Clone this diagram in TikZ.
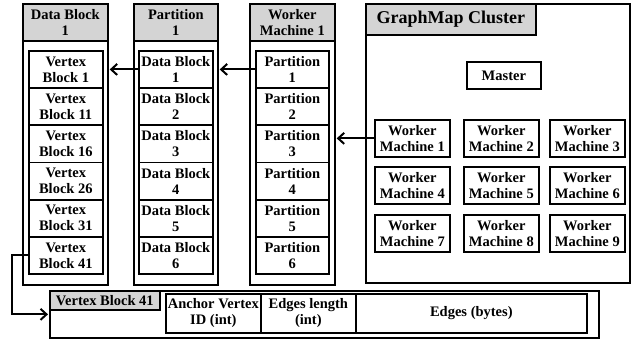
\documentclass[tikz,border=0pt]{standalone}
\usepackage{fontspec}
\setmainfont{Liberation Serif}
\usetikzlibrary{arrows.meta}
\begin{document}
\begin{tikzpicture}[x=1pt,y=-1pt,
 box/.style={draw, line width=1.7pt, inner sep=0pt, align=center, anchor=north west, font=\bfseries\fontsize{14.5}{16}\selectfont},
 hdr/.style={box, fill=black!17},
 arr/.style={line width=2pt, -{Straight Barb[length=6pt,width=11pt,line width=2pt]}, shorten >=1pt}]
\useasboundingbox (0,0) rectangle (636,341);
% Data block column
\node[box, minimum width=85, minimum height=281] (dcol) at (22,3) {};
\node[hdr, minimum width=85, minimum height=37] (dhdr) at (22,3) {Data Block\\1};
\foreach \t [count=\i] in {1,11,16,26,31,41}
  \node[box, minimum width=74, minimum height=37.2] (v\i) at (28,{50+37.2*(\i-1)}) {Vertex\\Block \t};
% Partition column
\node[box, minimum width=84, minimum height=281] (pcol) at (133,3) {};
\node[hdr, minimum width=84, minimum height=37] (phdr) at (133,3) {Partition\\1};
\foreach \i in {1,...,6}
  \node[box, minimum width=74, minimum height=37.2] (d\i) at (138,{50+37.2*(\i-1)}) {Data Block\\\i};
% Worker machine column
\node[box, minimum width=85, minimum height=281] (wcol) at (249,3) {};
\node[hdr, minimum width=85, minimum height=37] (whdr) at (249,3) {Worker\\Machine 1};
\foreach \i in {1,...,6}
  \node[box, minimum width=73, minimum height=37.2] (p\i) at (255,{50+37.2*(\i-1)}) {Partition\\\i};
% Cluster
\node[box, minimum width=264, minimum height=279] (cl) at (365,3) {};
\node[hdr, minimum width=170, minimum height=31, font=\bfseries\fontsize{18}{20}\selectfont] (clh) at (365,3) {GraphMap Cluster};
\node[box, minimum width=74, minimum height=27] (master) at (466,61) {Master};
\foreach \y [count=\r from 0] in {119,166,214}
  \foreach \x [count=\c] in {374,463,549} {
    \pgfmathtruncatemacro{\n}{3*\r+\c}
    \node[box, minimum width=75, minimum height=37] (w\n) at (\x,\y) {Worker\\Machine \n};
  }
% Bottom record
\node[box, minimum width=549, minimum height=47] (bot) at (49,290) {};
\node[hdr, minimum width=110, minimum height=19] (vbl) at (49,290) {Vertex Block 41};
\node[box, minimum width=95, minimum height=39] (anc) at (165,293) {Anchor Vertex\\ID (int)};
\node[box, minimum width=95, minimum height=39] (elen) at (260,293) {Edges length\\(int)};
\node[box, minimum width=231, minimum height=39] (edg) at (355,293) {Edges (bytes)};
% Arrows
\draw[arr] (w1.west) -- (w1.west -| wcol.east);
\draw[arr] (p1.west) -- (p1.west -| pcol.east);
\draw[arr] (d1.west) -- (d1.west -| dcol.east);
\draw[arr] (v6.west) -- ++(-16,0) |- (bot.west);
\end{tikzpicture}
\end{document}
